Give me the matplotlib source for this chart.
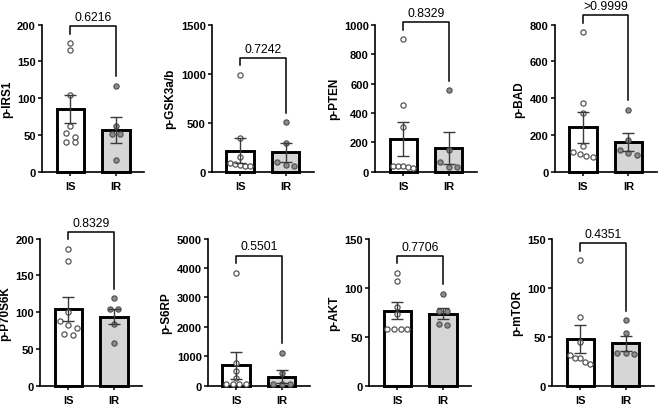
import numpy as np
import matplotlib.pyplot as plt

plt.rcParams['font.family'] = ['Liberation Sans', 'DejaVu Sans']

names = ['p-IRS1', 'p-GSK3a/b', 'p-PTEN', 'p-BAD', 'p-P70S6K', 'p-S6RP', 'p-AKT', 'p-mTOR']
groups = ['IS', 'IR']
p_values = ['0.6216', '0.7242', '0.8329', '>0.9999', '0.8329', '0.5501', '0.7706', '0.4351']
y_max = [200, 1500, 1000, 800, 200, 5000, 150, 150]
y_step = [50, 500, 200, 200, 50, 1000, 50, 50]

# individual values
is_points = [
    [175, 166, 105, 62, 53, 48, 40, 40],
    [987, 343, 150, 90, 80, 75, 65, 58],
    [900, 456, 304, 43, 40, 38, 35, 28],
    [758, 373, 318, 143, 110, 98, 85, 83],
    [186, 169, 100, 88, 82, 79, 70, 69],
    [3846, 792, 509, 260, 60, 60, 60, 60],
    [115, 107, 80, 73, 58, 58, 58, 58],
    [128, 70, 45, 31, 28, 28, 24, 22],
]
ir_points = [
    [117, 63, 52, 52, 16],
    [505, 295, 105, 75, 65],
    [553, 150, 70, 36, 36],
    [338, 176, 121, 101, 94],
    [119, 105, 105, 84, 58],
    [1131, 430, 80, 75, 70],
    [94, 76, 76, 63, 62],
    [67, 54, 34, 33, 32],
]
# bar heights (mean) and error bars (SEM)
is_mean = [85.4, 217, 224, 242, 104.5, 701, 76.3, 48]
is_sem = [19.6, 126, 118, 86, 16.5, 464, 8.7, 14]
ir_mean = [56.6, 200, 163, 161, 94, 317, 73.6, 43.4]
ir_sem = [17.4, 95, 107, 49, 10, 226, 5.8, 7.6]

fig = plt.figure(figsize=(6.58, 4.06), dpi=100)

lefts = [0.064, 0.322, 0.570, 0.843, 0.061, 0.316, 0.561, 0.839]
bottoms = [0.574] * 4 + [0.047] * 4
W, H = 0.155, 0.363
XLIM = (-0.62, 1.62)
W_px = W * 658
H_px = H * 406
dot_px = 5.0


def swarm(vals, ymax):
    # spread points that would overlap into centred rows
    px_per_unit = H_px / ymax
    order = np.argsort(vals)[::-1]
    offs = np.zeros(len(vals))
    clusters = []
    for i in order:
        if clusters and (vals[clusters[-1][-1]] - vals[i]) * px_per_unit < dot_px + 0.5:
            clusters[-1].append(i)
        else:
            clusters.append([i])
    unit = (XLIM[1] - XLIM[0]) / W_px
    for c in clusters:
        n = len(c)
        step = 8.5 if n < 3 else min(8.5, 20.0 / (n - 1))
        for k, i in enumerate(c):
            offs[i] = (k - (n - 1) / 2) * step * unit
    return offs


for i in range(8):
    ax = fig.add_axes([lefts[i], bottoms[i], W, H])
    means = [is_mean[i], ir_mean[i]]
    sems = [is_sem[i], ir_sem[i]]
    ax.bar([0, 1], means, width=0.6, color=['white', '#d6d6d6'],
           edgecolor='black', linewidth=2.1, zorder=2, clip_on=False)
    for g, (pts, fc) in enumerate([(is_points[i], 'white'), (ir_points[i], '#8c8c8c')]):
        pts = np.array(pts, dtype=float)
        xs = g + swarm(pts, y_max[i])
        ax.scatter(xs, pts, s=14, facecolor=fc, edgecolor='#555555',
                   linewidth=0.9, zorder=3, clip_on=False)
    ax.errorbar([0, 1], means, yerr=sems, fmt='none', ecolor='#3a3a3a',
                elinewidth=1, capsize=4, capthick=1, zorder=4, clip_on=False)

    ax.set_xlim(*XLIM)
    ax.set_ylim(0, y_max[i])
    ax.set_yticks(np.arange(0, y_max[i] + 1, y_step[i]))
    ax.set_xticks([0, 1])
    ax.set_xticklabels(groups, fontsize=8, fontweight='bold')
    for lab in ax.get_yticklabels():
        lab.set_fontsize(8)
        lab.set_fontweight('bold')
    ax.tick_params(axis='x', length=3, width=1.1, pad=3.5)
    ax.tick_params(axis='y', length=3, width=1.1, pad=1.5)
    ax.set_ylabel(names[i], fontsize=8.5, fontweight='bold', labelpad=3)
    for s in ['top', 'right']:
        ax.spines[s].set_visible(False)
    for s in ['left', 'bottom']:
        ax.spines[s].set_linewidth(1.2)

    # significance bracket
    upu = y_max[i] / H_px
    leg_is = max(is_points[i]) + 9.5 * upu
    leg_ir = max(ir_points[i]) + 9.5 * upu
    top = max(leg_is, leg_ir) + 7.5 * upu
    ax.plot([0, 0, 1, 1], [leg_is, top, top, leg_ir], color='black',
            linewidth=1.1, clip_on=False, zorder=5)
    ax.annotate(p_values[i], xy=(0.5, top), xytext=(0, 4.5),
                textcoords='offset points', ha='center', va='baseline',
                fontsize=8.8, annotation_clip=False)

fig.savefig('out.png', dpi=100)
